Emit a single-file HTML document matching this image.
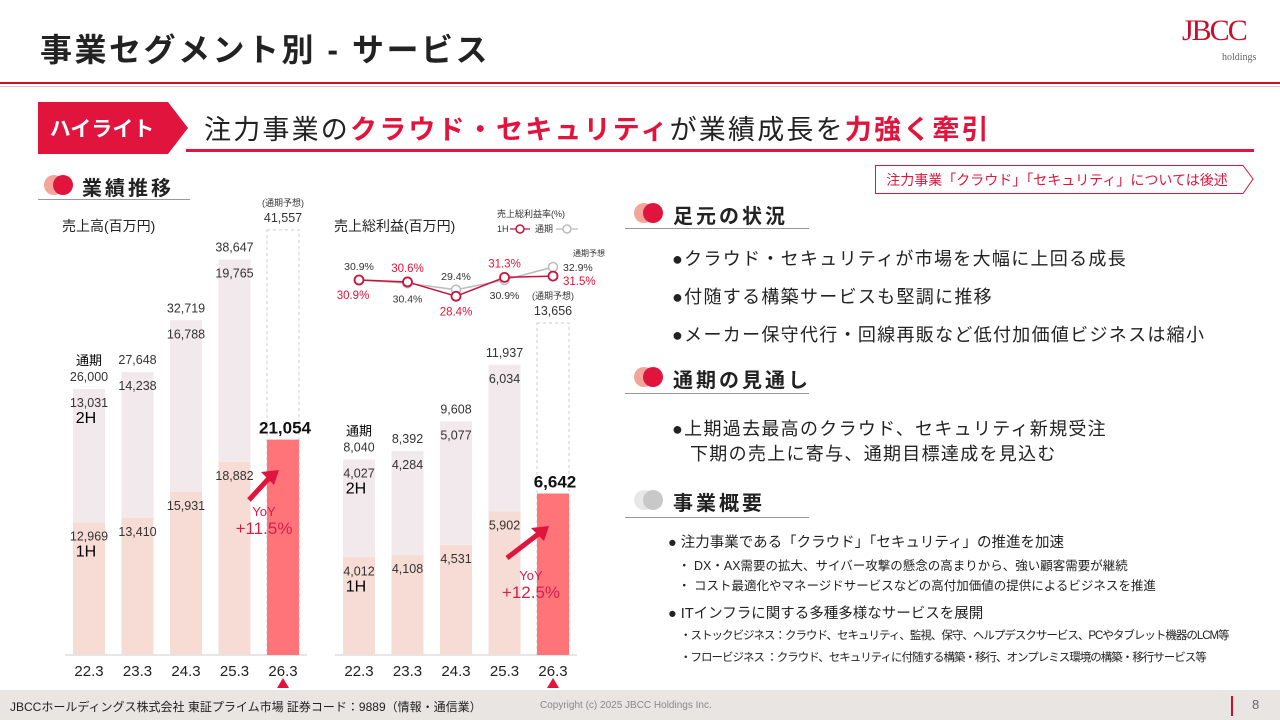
<!DOCTYPE html>
<html><head><meta charset="utf-8"><style>
body{margin:0;width:1280px;height:720px;overflow:hidden;background:#fff;font-family:"Liberation Sans","Noto Sans CJK JP",sans-serif;color:#222;position:relative}
.a{position:absolute;white-space:nowrap}
.h2{font-size:20px;font-weight:bold;letter-spacing:3px}
.b{font-size:18px;letter-spacing:1.3px}
</style></head><body>
<div class="a" style="left:40px;top:25px;font-size:32px;font-weight:bold;letter-spacing:2.5px">事業セグメント別 - サービス</div>
<div class="a" style="left:1182px;top:14px;color:#c8102e;font-family:'Liberation Serif',serif;font-size:30px;letter-spacing:-2px">JBCC</div>
<div class="a" style="left:1222px;top:52px;color:#666;font-family:'Liberation Serif',serif;font-size:10px">holdings</div>
<div class="a" style="left:0;top:82px;width:1280px;height:2px;background:#c8102e"></div>
<div class="a" style="left:0;top:86px;width:1280px;height:1px;background:#f0c0c8"></div>
<svg class="a" style="left:38px;top:102px" width="152" height="52"><polygon points="0,0 130,0 150,26 130,52 0,52" fill="#e0143c"/><text x="64" y="34" fill="#fff" font-size="21" font-weight="bold" text-anchor="middle" font-family="Liberation Sans,Noto Sans CJK JP,sans-serif">ハイライト</text></svg>
<div class="a" style="left:204px;top:108px;font-size:27px;letter-spacing:2.2px">注力事業の<b style="color:#e0143c">クラウド・セキュリティ</b>が業績成長を<b style="color:#e0143c">力強く牽引</b></div>
<div class="a" style="left:186px;top:149px;width:1068px;height:3px;background:#e0143c"></div>
<svg class="a" style="left:875px;top:165px" width="380" height="30"><polygon points="0.5,0.5 368,0.5 378,14 368,28.5 0.5,28.5" fill="#fff" stroke="#e0143c"/><text x="182" y="20" fill="#e0143c" font-size="14" text-anchor="middle" font-family="Liberation Sans,Noto Sans CJK JP,sans-serif">注力事業「クラウド」「セキュリティ」については後述</text></svg>

<svg class="a" style="left:44px;top:172px" width="30" height="26"><circle cx="10" cy="13" r="10" fill="#f4a59a"/><circle cx="19" cy="13" r="10" fill="#e0143c"/></svg>
<div class="a h2" style="left:82px;top:172px">業績推移</div>
<div class="a" style="left:38px;top:199px;width:152px;height:1px;background:#999"></div>

<div class="a" style="left:62px;top:216px;font-size:14px">売上高(百万円)</div>
<div class="a" style="left:334px;top:216px;font-size:14px">売上総利益(百万円)</div>

<svg id="ch" class="a" style="left:0;top:0" width="640" height="700" font-family="Liberation Sans,Noto Sans CJK JP,sans-serif"></svg>

<svg class="a" style="left:634px;top:200px" width="30" height="26"><circle cx="10" cy="13" r="10" fill="#f4a59a"/><circle cx="19" cy="13" r="10" fill="#e0143c"/></svg>
<div class="a h2" style="left:673px;top:200px">足元の状況</div>
<div class="a" style="left:625px;top:228px;width:184px;height:1px;background:#999"></div>
<div class="a b" style="left:672px;top:245px">●クラウド・セキュリティが市場を大幅に上回る成長</div>
<div class="a b" style="left:672px;top:283px">●付随する構築サービスも堅調に推移</div>
<div class="a b" style="left:672px;top:321px">●メーカー保守代行・回線再販など低付加価値ビジネスは縮小</div>

<svg class="a" style="left:634px;top:364px" width="30" height="26"><circle cx="10" cy="13" r="10" fill="#f4a59a"/><circle cx="19" cy="13" r="10" fill="#e0143c"/></svg>
<div class="a h2" style="left:673px;top:364px">通期の見通し</div>
<div class="a" style="left:625px;top:393px;width:184px;height:1px;background:#999"></div>
<div class="a b" style="left:672px;top:415px">●上期過去最高のクラウド、セキュリティ新規受注</div>
<div class="a b" style="left:690px;top:440px">下期の売上に寄与、通期目標達成を見込む</div>

<svg class="a" style="left:634px;top:487px" width="30" height="26"><circle cx="10" cy="13" r="10" fill="#e8e8e8"/><circle cx="19" cy="13" r="10" fill="#c8c8c8"/></svg>
<div class="a h2" style="left:673px;top:487px">事業概要</div>
<div class="a" style="left:625px;top:517px;width:184px;height:1px;background:#999"></div>
<div class="a" style="left:668px;top:531px;font-size:14.5px">● 注力事業である「クラウド」「セキュリティ」の推進を加速</div>
<div class="a" style="left:678px;top:555px;font-size:12.5px">・ DX・AX需要の拡大、サイバー攻撃の懸念の高まりから、強い顧客需要が継続</div>
<div class="a" style="left:678px;top:575px;font-size:12.5px">・ コスト最適化やマネージドサービスなどの高付加価値の提供によるビジネスを推進</div>
<div class="a" style="left:668px;top:602px;font-size:14.5px">● ITインフラに関する多種多様なサービスを展開</div>
<div class="a" style="left:680px;top:627px;font-size:11.5px;letter-spacing:-1px">・ストックビジネス：クラウド、セキュリティ、監視、保守、ヘルプデスクサービス、PCやタブレット機器のLCM等</div>
<div class="a" style="left:680px;top:649px;font-size:11.5px;letter-spacing:-1px">・フロービジネス ：クラウド、セキュリティに付随する構築・移行、オンプレミス環境の構築・移行サービス等</div>

<div class="a" style="left:0;top:690px;width:1280px;height:30px;background:#e9e5e3"></div>
<div class="a" style="left:10px;top:698px;font-size:12px">JBCCホールディングス株式会社 東証プライム市場 証券コード：9889（情報・通信業）</div>
<div class="a" style="left:540px;top:700px;font-size:10px;color:#888">Copyright (c) 2025 JBCC Holdings Inc.</div>
<div class="a" style="left:1231px;top:696px;width:2px;height:20px;background:#c8102e"></div>
<div class="a" style="left:1252px;top:697px;font-size:13px;color:#666">8</div>

<script>
const categories=["22.3","23.3","24.3","25.3","26.3"];
const salesH1=[12969,13410,15931,18882,21054];
const salesH2=[13031,14238,16788,19765,null];
const salesFull=[26000,27648,32719,38647,41557];
const gpH1=[4012,4108,4531,5902,6642];
const gpH2=[4027,4284,5077,6034,null];
const gpFull=[8040,8392,9608,11937,13656];
const marginH1=[30.9,30.6,28.4,31.3,31.5];
const marginFull=[30.9,30.4,29.4,30.9,32.9];
const fmt=v=>v.toLocaleString('en-US');
const svg=document.getElementById('ch');const NS='http://www.w3.org/2000/svg';
function mk(t,a,txt){const e=document.createElementNS(NS,t);for(const k in a)e.setAttribute(k,a[k]);if(txt!=null)e.textContent=txt;svg.appendChild(e);return e;}
const base=655,bw=32;
function drawChart(x0,step,scale,h1,h2,full,pre){
 const X=i=>x0+i*step, Y=v=>base-v*scale;
 const ax=mk('line',{x1:X(0)-24,x2:X(4)+24,y1:base,y2:base,stroke:'#ccc'});
 
 categories.forEach((c,i)=>{
  const last=i===4;
  if(last){const d=mk('rect',{x:X(i)-bw/2,y:Y(full[i]),width:bw,height:full[i]*scale,fill:'none',stroke:'#ccc','stroke-dasharray':'3,3'});
   }
  else{const r2=mk('rect',{x:X(i)-bw/2,y:Y(full[i]),width:bw,height:(full[i]-h1[i])*scale,fill:'#f1e9eb'});
   }
  const r1=mk('rect',{x:X(i)-bw/2,y:Y(h1[i]),width:bw,height:h1[i]*scale,fill:last?'#ff7479':'#f7dcd5'});
  
  const t=mk('text',{x:X(i),y:Y(full[i])-8,'font-size':12.5,'text-anchor':'middle',fill:'#333'},fmt(full[i]));
  
  if(last){const p=mk('text',{x:X(i),y:Y(full[i])-24,'font-size':9,'text-anchor':'middle',fill:'#333'},'(通期予想)');
   
   const b=mk('text',{x:X(i)+2,y:Y(h1[i])-6,'font-size':17,'font-weight':'bold','text-anchor':'middle',fill:'#111'},fmt(h1[i]));
   }
  else{const a=mk('text',{x:X(i),y:Y(full[i])+18,'font-size':12.5,'text-anchor':'middle',fill:'#333'},fmt(h2[i]));
   
   const b=mk('text',{x:X(i),y:Y(h1[i])+18,'font-size':12.5,'text-anchor':'middle',fill:'#333'},fmt(h1[i]));
   }
  const cl=mk('text',{x:X(i),y:676,'font-size':15,'text-anchor':'middle',fill:'#222'},c);
  
 });
 const tri=mk('polygon',{points:`${X(4)-6},688 ${X(4)+6},688 ${X(4)},678`,fill:'#e0143c'});
 
 const l1=mk('text',{x:X(0),y:Y(full[0])-24,'font-size':13,'text-anchor':'middle'},'通期');
 
 const l2=mk('text',{x:X(0)-3,y:Y(full[0])+34,'font-size':16,'text-anchor':'middle'},'2H');
 
 const l3=mk('text',{x:X(0)-3,y:Y(h1[0])+34,'font-size':16,'text-anchor':'middle'},'1H');
 
 return {X,Y};
}
const L=drawChart(89,48.5,266/26000,salesH1,salesH2,salesFull,'sales');
const M=drawChart(359,48.5,332/13656,gpH1,gpH2,gpFull,'gp');
function arrow(x1,y1,x2,y2,name){const g=mk('path',{d:`M${x1},${y1} L${x2-8},${y2+6}`,stroke:'#e0143c','stroke-width':5,fill:'none'});
 
 const h=mk('polygon',{points:`${x2},${y2} ${x2-18},${y2+2} ${x2-5},${y2+15}`,fill:'#e0143c'});
 }
arrow(249,500,279,470,'sales-yoy-arrow');
arrow(507,558,549,526,'gp-yoy-arrow');
function yoy(x,y,v,pre){const a=mk('text',{x:x,y:y,'font-size':13,'text-anchor':'middle',fill:'#d6204a'},'YoY');
 
 const b=mk('text',{x:x,y:y+18,'font-size':17,'text-anchor':'middle',fill:'#d6204a'},v);
 }
yoy(264,516,'+11.5%','sales');yoy(531,580,'+12.5%','gp');
// margin lines
const MY=v=>280-(v-30.9)*6.5, MX=i=>M.X(i);
const pf=mk('polyline',{points:marginFull.map((v,i)=>MX(i)+','+MY(v)).join(' '),fill:'none',stroke:'#bbb','stroke-width':1.5});

const ph=mk('polyline',{points:marginH1.map((v,i)=>MX(i)+','+MY(v)).join(' '),fill:'none',stroke:'#c8143c','stroke-width':1.5});

marginFull.forEach((v,i)=>{const c=mk('circle',{cx:MX(i),cy:MY(v),r:4.5,fill:'#fff',stroke:'#bbb','stroke-width':1.5});
 
 const up=(i===0||i===2);
 let t;
 if(i===4) t=mk('text',{x:MX(i)+10,y:MY(v)+4,'font-size':10.5,'text-anchor':'start',fill:'#333'},v.toFixed(1)+'%');
 else t=mk('text',{x:MX(i),y:up?MY(v)-10:MY(v)+19,'font-size':10.5,'text-anchor':'middle',fill:'#333'},v.toFixed(1)+'%');
 });
marginH1.forEach((v,i)=>{const c=mk('circle',{cx:MX(i),cy:MY(v),r:4.5,fill:'#fff',stroke:'#c8143c','stroke-width':1.8});
 
 const up=(i===1||i===3);
 const t=mk('text',{x:MX(i)+(i===4?10:0),y:up?MY(v)-10:(i===4?MY(v)+9:MY(v)+19),'font-size':11.5,'text-anchor':i===4?'start':'middle',fill:'#e0143c'},v.toFixed(1)+'%');
 if(i===0)t.setAttribute('x',MX(i)-6);
 });
const fn=mk('text',{x:MX(4)+20,y:256,'font-size':8,fill:'#333'},'通期予想');

// legend
const lg=mk('text',{x:497,y:217,'font-size':9,fill:'#333'},'売上総利益率(%)');

const lt1=mk('text',{x:497,y:232,'font-size':9,fill:'#333'},'1H');

const ll1=mk('line',{x1:510,x2:530,y1:229,y2:229,stroke:'#c8143c','stroke-width':1.2});

const lc1=mk('circle',{cx:520,cy:229,r:4,fill:'#fff',stroke:'#c8143c','stroke-width':1.5});

const lt2=mk('text',{x:535,y:232,'font-size':9,fill:'#333'},'通期');

const ll2=mk('line',{x1:556,x2:578,y1:229,y2:229,stroke:'#bbb','stroke-width':1.2});

const lc2=mk('circle',{cx:567,cy:229,r:4,fill:'#fff',stroke:'#bbb','stroke-width':1.5});

</script>
</body></html>
